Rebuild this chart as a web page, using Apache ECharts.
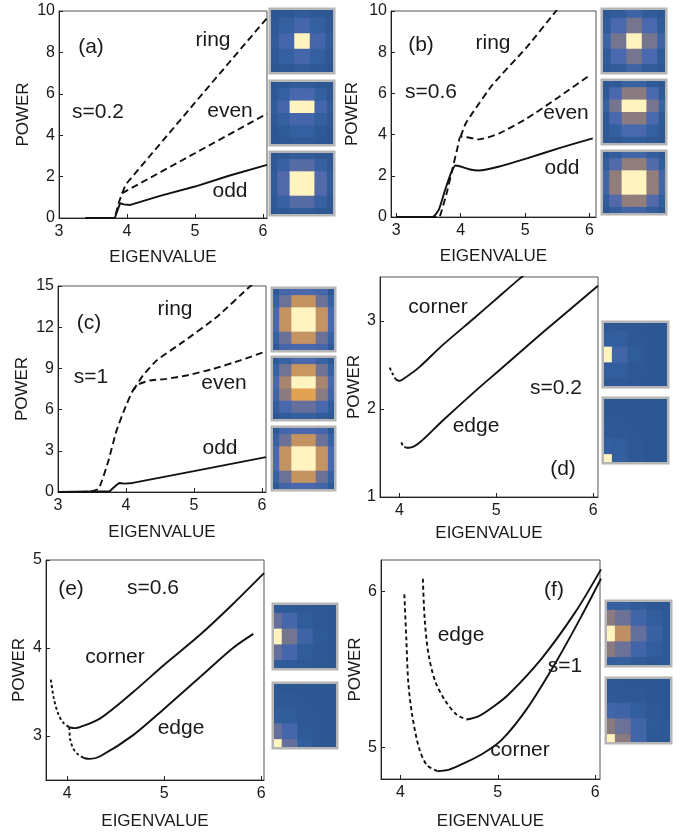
<!DOCTYPE html>
<html><head><meta charset="utf-8">
<script src="https://cdn.jsdelivr.net/npm/echarts@6/dist/echarts.min.js"></script>
<style>html,body{margin:0;padding:0;background:#fff}#c{width:684px;height:834px}</style>
</head><body><div id="c"></div>
<script>
// ---------------- data: curves (eigenvalue, power) ----------------
const aOdd  = [[3.39,0],[3.82,0],[3.87,0.45],[3.9,0.72],[3.95,0.66],[4.05,0.63],[4.5,1.08],[5,1.52],[5.5,2.04],[6.06,2.57]];
const aEven = [[3.39,0],[3.82,0],[3.88,0.75],[3.93,1.2],[4.5,2.23],[5,3.13],[5.5,4.03],[6.06,5.04]];
const aRing = [[3.93,1.2],[3.98,1.6],[4.03,1.81],[4.5,3.63],[5,5.57],[5.5,7.5],[6.06,9.66]];

const bOdd  = [[3.0,0],[3.56,0],[3.66,0.35],[3.76,1.32],[3.84,2.05],[3.92,2.5],[4.0,2.45],[4.13,2.32],[4.28,2.26],[4.6,2.45],[5.03,2.85],[5.53,3.34],[6.05,3.82]];
const bEven = [[3.0,0],[3.66,0],[3.71,0.35],[3.79,1.24],[3.87,2.29],[3.95,3.34],[4.0,3.9],[4.1,3.87],[4.28,3.77],[4.6,4.06],[5.03,4.79],[5.53,5.84],[5.97,6.81]];
const bRing = [[4.0,3.9],[4.08,4.55],[4.18,5.03],[4.49,6.4],[5.03,8.26],[5.48,10.0],[5.8,11.2]];

const cOdd  = [[3.0,0],[3.76,0.05],[3.84,0.42],[3.9,0.66],[3.98,0.61],[4.1,0.66],[5,1.52],[6.06,2.54]];
const cEven = [[3.0,0],[3.45,0.02],[3.6,0.25],[3.74,2.25],[3.86,4.45],[3.98,6.04],[4.1,7.38],[4.2,7.87],[4.35,8.12],[4.6,8.24],[4.89,8.48],[5.29,8.97],[5.68,9.58],[6.06,10.24]];
const cRing = [[4.1,7.38],[4.25,8.48],[4.45,9.58],[4.84,10.93],[5.34,12.76],[5.83,15.0],[6.06,15.9]];

const dCornerU = [[3.9,2.47],[3.93,2.4],[3.96,2.34]];
const dCornerS = [[3.96,2.34],[4.0,2.32],[4.04,2.34],[4.2,2.47],[4.44,2.72],[4.78,3.04],[5.02,3.27],[5.23,3.47],[5.33,3.56]];
const dEdgeU   = [[4.02,1.62],[4.04,1.58],[4.07,1.56]];
const dEdgeS   = [[4.07,1.56],[4.1,1.56],[4.2,1.61],[4.44,1.86],[4.78,2.2],[5.02,2.43],[5.47,2.86],[6.05,3.4]];

const eCornerU = [[3.83,3.64],[3.86,3.43],[3.91,3.24],[3.96,3.15],[4.02,3.1]];
const eCornerS = [[4.02,3.1],[4.08,3.09],[4.13,3.1],[4.34,3.2],[4.68,3.5],[5.0,3.81],[5.37,4.15],[5.71,4.5],[6.03,4.85]];
const eEdgeU   = [[4.02,3.1],[4.03,2.96],[4.06,2.86],[4.1,2.8],[4.17,2.75]];
const eEdgeS   = [[4.17,2.75],[4.23,2.74],[4.34,2.77],[4.68,3.01],[5.0,3.31],[5.37,3.67],[5.71,4.0],[5.92,4.16]];

const fCornerU = [[4.04,5.98],[4.06,5.7],[4.08,5.42],[4.12,5.21],[4.19,5.0],[4.27,4.89],[4.38,4.85]];
const fCornerS = [[4.38,4.85],[4.5,4.86],[4.65,4.9],[4.84,4.96],[5.04,5.05],[5.3,5.25],[5.6,5.55],[5.85,5.83],[6.06,6.08]];
const fEdgeU   = [[4.23,6.08],[4.25,5.81],[4.29,5.59],[4.36,5.42],[4.46,5.3],[4.58,5.21],[4.68,5.18]];
const fEdgeS   = [[4.68,5.18],[4.8,5.2],[4.95,5.26],[5.11,5.34],[5.45,5.57],[5.8,5.87],[6.06,6.14]];

// ---------------- data: tick values ----------------
const ticksX3  = [3,4,5,6];
const ticksX4  = [4,5,6];
const ticksY10 = [0,2,4,6,8,10];
const ticksY15 = [0,3,6,9,12,15];
const ticksYd  = [1,2,3];
const ticksYe  = [3,4,5];
const ticksYf  = [5,6];

// ---------------- data: mode profiles (intensity, rows top->bottom) ----------------
const thumbA1 = [[0.02,0.04,0.08,0.04,0.02],[0.04,0.12,0.22,0.12,0.04],[0.08,0.22,1,0.22,0.08],[0.04,0.12,0.22,0.12,0.04],[0.02,0.04,0.08,0.04,0.02]];
const thumbA2 = [[0.02,0.04,0.08,0.08,0.04,0.02],[0.04,0.12,0.25,0.25,0.12,0.04],[0.08,0.22,1,1,0.22,0.08],[0.04,0.12,0.22,0.22,0.12,0.04],[0.02,0.06,0.12,0.12,0.06,0.02],[0.02,0.03,0.05,0.05,0.03,0.02]];
const thumbA3 = [[0.02,0.04,0.08,0.08,0.04,0.02],[0.04,0.14,0.3,0.3,0.14,0.04],[0.08,0.28,1,1,0.28,0.08],[0.08,0.28,1,1,0.28,0.08],[0.04,0.14,0.3,0.3,0.14,0.04],[0.02,0.04,0.08,0.08,0.04,0.02]];
const thumbB1 = [[0.03,0.08,0.18,0.08,0.03],[0.08,0.25,0.42,0.25,0.08],[0.18,0.42,1,0.42,0.18],[0.08,0.25,0.42,0.25,0.08],[0.03,0.08,0.18,0.08,0.03]];
const thumbB2 = [[0.03,0.06,0.15,0.15,0.06,0.03],[0.06,0.25,0.5,0.5,0.25,0.06],[0.15,0.42,1,1,0.42,0.15],[0.06,0.25,0.5,0.5,0.25,0.06],[0.04,0.12,0.25,0.25,0.12,0.04],[0.02,0.04,0.08,0.08,0.04,0.02]];
const thumbB3 = [[0.03,0.1,0.2,0.2,0.1,0.03],[0.1,0.28,0.52,0.52,0.28,0.1],[0.2,0.52,1,1,0.52,0.2],[0.2,0.52,1,1,0.52,0.2],[0.1,0.28,0.52,0.52,0.28,0.1],[0.03,0.1,0.2,0.2,0.1,0.03]];
const thumbC1 = [[0.05,0.22,0.25,0.25,0.22,0.05],[0.15,0.38,0.7,0.7,0.38,0.15],[0.25,0.7,1,1,0.7,0.25],[0.25,0.7,1,1,0.7,0.25],[0.15,0.38,0.7,0.7,0.38,0.15],[0.05,0.22,0.25,0.25,0.22,0.05]];
const thumbC2 = [[0.05,0.15,0.25,0.25,0.15,0.05],[0.15,0.4,0.72,0.72,0.4,0.15],[0.25,0.6,1,1,0.6,0.25],[0.2,0.5,0.86,0.86,0.5,0.2],[0.1,0.25,0.35,0.35,0.25,0.1],[0.03,0.08,0.12,0.12,0.08,0.03]];
const thumbC3 = [[0.05,0.22,0.25,0.25,0.22,0.05],[0.15,0.38,0.7,0.7,0.38,0.15],[0.25,0.7,1,1,0.7,0.25],[0.25,0.7,1,1,0.7,0.25],[0.15,0.38,0.7,0.7,0.38,0.15],[0.05,0.2,0.25,0.25,0.2,0.05]];
const thumbD1 = [[0.05,0.04,0.03,0.02,0.02],[0.1,0.1,0.05,0.03,0.02],[1,0.2,0.08,0.03,0.02],[0.1,0.1,0.05,0.03,0.02],[0.04,0.04,0.03,0.02,0.02]];
const thumbD2 = [[0.02,0.02,0.02,0.02,0.02],[0.03,0.03,0.02,0.02,0.02],[0.05,0.04,0.03,0.02,0.02],[0.12,0.1,0.05,0.02,0.02],[1,0.12,0.05,0.02,0.02]];
const thumbE1 = [[0.08,0.06,0.04,0.03,0.02],[0.35,0.22,0.08,0.05,0.03],[1,0.42,0.18,0.06,0.03],[0.35,0.22,0.08,0.05,0.03],[0.08,0.06,0.04,0.03,0.02]];
const thumbE2 = [[0.02,0.02,0.02,0.02,0.02],[0.04,0.04,0.03,0.02,0.02],[0.1,0.08,0.04,0.03,0.02],[0.35,0.22,0.06,0.03,0.02],[1,0.35,0.1,0.03,0.02]];
const thumbF1 = [[0.12,0.12,0.08,0.04,0.03],[0.5,0.38,0.2,0.1,0.05],[1,0.68,0.35,0.15,0.06],[0.5,0.38,0.2,0.1,0.05],[0.12,0.12,0.08,0.04,0.03]];
const thumbF2 = [[0.03,0.03,0.02,0.02,0.02],[0.06,0.05,0.04,0.02,0.02],[0.2,0.18,0.1,0.04,0.02],[0.5,0.38,0.2,0.06,0.03],[1,0.5,0.2,0.06,0.03]];

// ---------------- layout / style ----------------
const FONT = '"Liberation Sans", Arial, Helvetica, sans-serif';
const INK = '#1a1a1a';
const palette = ['#2a5590','#3560a0','#4a68ae','#6a7198','#8a7b80','#b08868','#d09a5c','#e3a452','#fff3c0'];

const panels = [
  {grid:{left:59,top:11,width:208,height:207}, x:[3,6.06], y:[0,10], xt:ticksX3, yt:ticksY10, xGap:31, yGap:27,
   lines:[[aOdd,'solid',0],[aEven,'dash',0],[aRing,'dash',0]]},
  {grid:{left:391,top:11,width:205,height:206}, x:[2.92,6.1], y:[0,10], xt:ticksX3, yt:ticksY10, xGap:31, yGap:30,
   lines:[[bOdd,'solid',0.2],[bEven,'dash',0.2],[bRing,'dash',0.2]]},
  {grid:{left:58,top:286,width:208,height:206}, x:[3,6.06], y:[0,15], xt:ticksX3, yt:ticksY15, xGap:32, yGap:27,
   lines:[[cOdd,'solid',0],[cEven,'dash',0.15],[cRing,'dash',0.15]]},
  {grid:{left:380,top:277,width:218,height:220}, x:[3.8,6.05], y:[1,3.5], xt:ticksX4, yt:ticksYd, xGap:28, yGap:17,
   lines:[[dCornerU,'short',0.3],[dCornerS,'solid',0.3],[dEdgeU,'short',0.3],[dEdgeS,'solid',0.3]]},
  {grid:{left:46,top:560,width:218,height:220}, x:[3.78,6.03], y:[2.5,5], xt:ticksX4, yt:ticksYe, xGap:33, yGap:18,
   lines:[[eCornerU,'short',0.3],[eCornerS,'solid',0.3],[eEdgeU,'short',0.3],[eEdgeS,'solid',0.3]]},
  {grid:{left:381,top:560,width:219,height:219}, x:[3.8,6.05], y:[4.8,6.2], xt:ticksX4, yt:ticksYf, xGap:34, yGap:16,
   lines:[[fCornerU,'dot',0.3],[fCornerS,'solid',0.3],[fEdgeU,'dot',0.3],[fEdgeS,'solid',0.3]]}
];

const thumbs = [
  [thumbA1,{left:271,top:10,width:62,height:62}],[thumbA2,{left:271,top:82,width:62,height:62}],[thumbA3,{left:271,top:153,width:62,height:61}],
  [thumbB1,{left:603,top:10,width:62,height:62}],[thumbB2,{left:603,top:81,width:62,height:62}],[thumbB3,{left:603,top:152,width:62,height:61}],
  [thumbC1,{left:273,top:289,width:61,height:61}],[thumbC2,{left:273,top:358,width:61,height:61}],[thumbC3,{left:273,top:428,width:61,height:61}],
  [thumbD1,{left:604,top:323,width:63,height:63}],[thumbD2,{left:604,top:399,width:63,height:63}],
  [thumbE1,{left:274,top:605,width:62,height:63}],[thumbE2,{left:274,top:684,width:62,height:63}],
  [thumbF1,{left:607,top:602,width:63,height:63}],[thumbF2,{left:607,top:679,width:63,height:63}]
];

const notes = [
  ['(a)',91,47],['ring',213,40],['s=0.2',98,112],['even',230,111],['odd',230,191],
  ['(b)',421,45],['ring',493,43],['s=0.6',431,92],['even',566,113],['odd',562,168],
  ['(c)',89,323],['ring',175,309],['s=1',91,377],['even',224,383],['odd',220,448],
  ['corner',438,307],['s=0.2',556,388],['edge',476,426],['(d)',563,469],
  ['(e)',71,589],['s=0.6',153,588],['corner',115,657],['edge',181,728],
  ['(f)',554,590],['edge',461,635],['s=1',565,666],['corner',520,750]
];

// ---------------- build option ----------------
const grids = [], xAxes = [], yAxes = [], series = [];
const dashMap = {solid:'solid', dash:[7,4], short:[3,2.5], dot:[4,3]};

panels.forEach((p, i) => {
  grids.push(Object.assign({show:true, borderColor:'#555', borderWidth:1, backgroundColor:'transparent'}, p.grid));
  xAxes.push({type:'value', gridIndex:i, min:p.x[0], max:p.x[1],
    name:'EIGENVALUE', nameLocation:'middle', nameGap:p.xGap,
    nameTextStyle:{fontSize:17, color:INK, fontFamily:FONT},
    axisLine:{show:true, onZero:false, lineStyle:{color:'#222', width:1}},
    axisTick:{show:true, inside:true, length:4, customValues:p.xt, lineStyle:{color:'#222'}},
    axisLabel:{customValues:p.xt, fontSize:16, color:INK, fontFamily:FONT, margin:6},
    splitLine:{show:false}});
  yAxes.push({type:'value', gridIndex:i, min:p.y[0], max:p.y[1],
    name:'POWER', nameLocation:'middle', nameGap:p.yGap,
    nameTextStyle:{fontSize:17, color:INK, fontFamily:FONT},
    axisLine:{show:true, onZero:false, lineStyle:{color:'#222', width:1}},
    axisTick:{show:true, inside:true, length:4, customValues:p.yt, lineStyle:{color:'#222'}},
    axisLabel:{customValues:p.yt, fontSize:16, color:INK, fontFamily:FONT, margin:4},
    splitLine:{show:false}});
  p.lines.forEach(([data, kind, sm]) => {
    series.push({type:'line', xAxisIndex:i, yAxisIndex:i, data:data, symbol:'none', showSymbol:false,
      smooth:sm, clip:true, silent:true, z:3,
      lineStyle:{color:'#111', width:1.9, type:dashMap[kind]}});
  });
});

const thumbSeries = [];
thumbs.forEach(([m, g], k) => {
  const gi = panels.length + k;
  const n = m.length;
  grids.push(Object.assign({show:true, borderColor:'#b5b5b5', borderWidth:5, backgroundColor:'#2a5590'}, g));
  xAxes.push({type:'value', gridIndex:gi, min:0.5, max:n-0.5, show:false});
  yAxes.push({type:'value', gridIndex:gi, min:0.5, max:n-0.5, inverse:true, show:false});
  const data = [];
  m.forEach((row, r) => row.forEach((v, c) => data.push([c, r, v])));
  thumbSeries.push(series.length);
  series.push({type:'custom', xAxisIndex:gi, yAxisIndex:gi, data:data, clip:true, silent:true,
    encode:{x:0, y:1},
    renderItem:function(params, api){
      const c = api.value(0), r = api.value(1);
      const p0 = api.coord([c, r]), p1 = api.coord([c+1, r+1]);
      return {type:'rect', shape:{x:Math.min(p0[0],p1[0]), y:Math.min(p0[1],p1[1]),
        width:Math.abs(p1[0]-p0[0])+0.6, height:Math.abs(p1[1]-p0[1])+0.6},
        style:{fill:api.visual('color')}};
    }});
});

const option = {
  animation:false,
  backgroundColor:'#fff',
  textStyle:{fontFamily:FONT},
  grid:grids, xAxis:xAxes, yAxis:yAxes, series:series,
  visualMap:{type:'continuous', show:false, seriesIndex:thumbSeries, dimension:2, min:0, max:1,
    inRange:{color:palette}},
  graphic:notes.map(([t, x, y]) => ({type:'text', x:x, y:y, silent:true, z:10,
    style:{text:t, fontSize:21, fontFamily:FONT, fill:INK, textAlign:'center', textVerticalAlign:'middle'}}))
};

const chart = echarts.init(document.getElementById('c'), null, {renderer:'canvas'});
chart.setOption(option);
</script></body></html>
